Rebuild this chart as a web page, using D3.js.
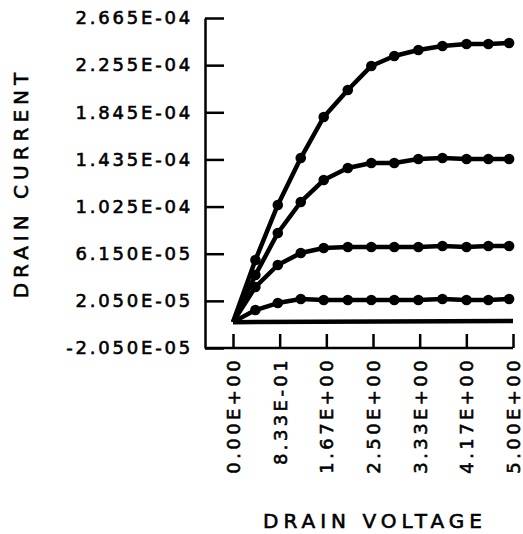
<!DOCTYPE html>
<html>
<head>
<meta charset="utf-8">
<script src="https://cdn.jsdelivr.net/npm/d3@7/dist/d3.min.js"></script>
<style>
  body { margin: 0; background: #fff; }
  svg { display: block; }
  text { font-family: "DejaVu Sans", sans-serif; fill: #000; stroke: #000; stroke-width: 0.6px; }
</style>
</head>
<body>
<div id="chart"></div>
<script>
// drain voltage (V) at each plotted point
const voltages = [0, 0.40, 0.80, 1.21, 1.62, 2.05, 2.47, 2.88, 3.31, 3.74, 4.17, 4.56, 4.93];

// drain current curves, in units of 1e-5 A
const curve1 = [0.2, 5.60, 10.39, 14.47, 18.04, 20.39, 22.48, 23.35, 23.87, 24.22, 24.39, 24.39, 24.48];
const curve2 = [0.2, 4.30, 7.95, 10.65, 12.56, 13.60, 14.04, 14.04, 14.39, 14.47, 14.39, 14.39, 14.39];
const curve3 = [0.2, 3.26, 5.17, 6.21, 6.65, 6.73, 6.73, 6.73, 6.73, 6.82, 6.73, 6.82, 6.82];
const curve4 = [0.2, 1.25, 1.86, 2.21, 2.12, 2.12, 2.12, 2.12, 2.12, 2.21, 2.12, 2.12, 2.21];

// flat curve, no markers
const flatV = [0, 5];
const flatI = [0.2, 0.3];

const yTicks = [-2.05e-5, 2.05e-5, 6.15e-5, 1.025e-4, 1.435e-4, 1.845e-4, 2.255e-4, 2.665e-4];
const yTickLabels = ["-2.050E-05", "2.050E-05", "6.150E-05", "1.025E-04", "1.435E-04", "1.845E-04", "2.255E-04", "2.665E-04"];
const xTicks = [0, 5 / 6, 5 / 3, 2.5, 10 / 3, 25 / 6, 5];
const xTickLabels = ["0.00E+00", "8.33E-01", "1.67E+00", "2.50E+00", "3.33E+00", "4.17E+00", "5.00E+00"];

const W = 523, H = 534;
const plotLeft = 205, plotRight = 513, plotTop = 18, plotBottom = 348;

const svg = d3.select('#chart').append('svg')
  .attr('width', W)
  .attr('height', H);

const x = d3.scaleLinear().domain([0, 5]).range([233, plotRight]);
const y = d3.scaleLinear().domain([-2.05e-5, 2.665e-4]).range([plotBottom, plotTop]);

// y axis (ticks point inward)
const yAxis = d3.axisLeft(y)
  .tickValues(yTicks)
  .tickFormat((d, i) => yTickLabels[i])
  .tickSizeInner(-19)
  .tickSizeOuter(0)
  .tickPadding(12);

const gy = svg.append('g')
  .attr('transform', 'translate(' + plotLeft + ',0)')
  .call(yAxis);
gy.select('.domain').attr('stroke-width', 2.5);
gy.selectAll('.tick line').attr('stroke-width', 2.5);
gy.selectAll('.tick text')
  .attr('font-size', 18)
  .attr('letter-spacing', 2.8)
  .attr('font-family', '"DejaVu Sans", sans-serif');

// x axis
const xAxis = d3.axisBottom(x)
  .tickValues(xTicks)
  .tickFormat((d, i) => xTickLabels[i])
  .tickSizeInner(-14)
  .tickSizeOuter(0)
  .tickPadding(10);

const gx = svg.append('g')
  .attr('transform', 'translate(0,' + plotBottom + ')')
  .call(xAxis);
gx.select('.domain').remove();
gx.selectAll('.tick line').attr('stroke-width', 2.5);
gx.selectAll('.tick text')
  .attr('font-size', 18)
  .attr('letter-spacing', 3.4)
  .attr('font-family', '"DejaVu Sans", sans-serif')
  .attr('transform', 'rotate(-90)')
  .attr('text-anchor', 'end')
  .attr('x', -9)
  .attr('y', 0)
  .attr('dy', '0.36em');

svg.append('line')
  .attr('x1', plotLeft).attr('x2', x(5))
  .attr('y1', plotBottom).attr('y2', plotBottom)
  .attr('stroke', '#000')
  .attr('stroke-width', 2.5);

// curves
const line = d3.line()
  .x(d => x(d[0]))
  .y(d => y(d[1] * 1e-5));

const curves = [curve1, curve2, curve3, curve4];
curves.forEach(c => {
  const pts = voltages.map((v, i) => [v, c[i]]);
  svg.append('path')
    .datum(pts)
    .attr('d', line)
    .attr('fill', 'none')
    .attr('stroke', '#000')
    .attr('stroke-width', 4.5)
    .attr('stroke-linejoin', 'round');
  svg.append('g').selectAll('circle')
    .data(pts.slice(1))
    .enter().append('circle')
    .attr('cx', d => x(d[0]))
    .attr('cy', d => y(d[1] * 1e-5))
    .attr('r', 5.3)
    .attr('fill', '#000');
});

svg.append('path')
  .datum(flatV.map((v, i) => [v, flatI[i]]))
  .attr('d', line)
  .attr('fill', 'none')
  .attr('stroke', '#000')
  .attr('stroke-width', 4.5);

// axis titles
svg.append('text')
  .attr('x', x(2.5) + 2)
  .attr('y', 528)
  .attr('text-anchor', 'middle')
  .attr('font-size', 20)
  .attr('letter-spacing', 5)
  .text('DRAIN VOLTAGE');

svg.append('text')
  .attr('transform', 'translate(28,183) rotate(-90)')
  .attr('text-anchor', 'middle')
  .attr('font-size', 20)
  .attr('letter-spacing', 5)
  .text('DRAIN CURRENT');
</script>
</body>
</html>
